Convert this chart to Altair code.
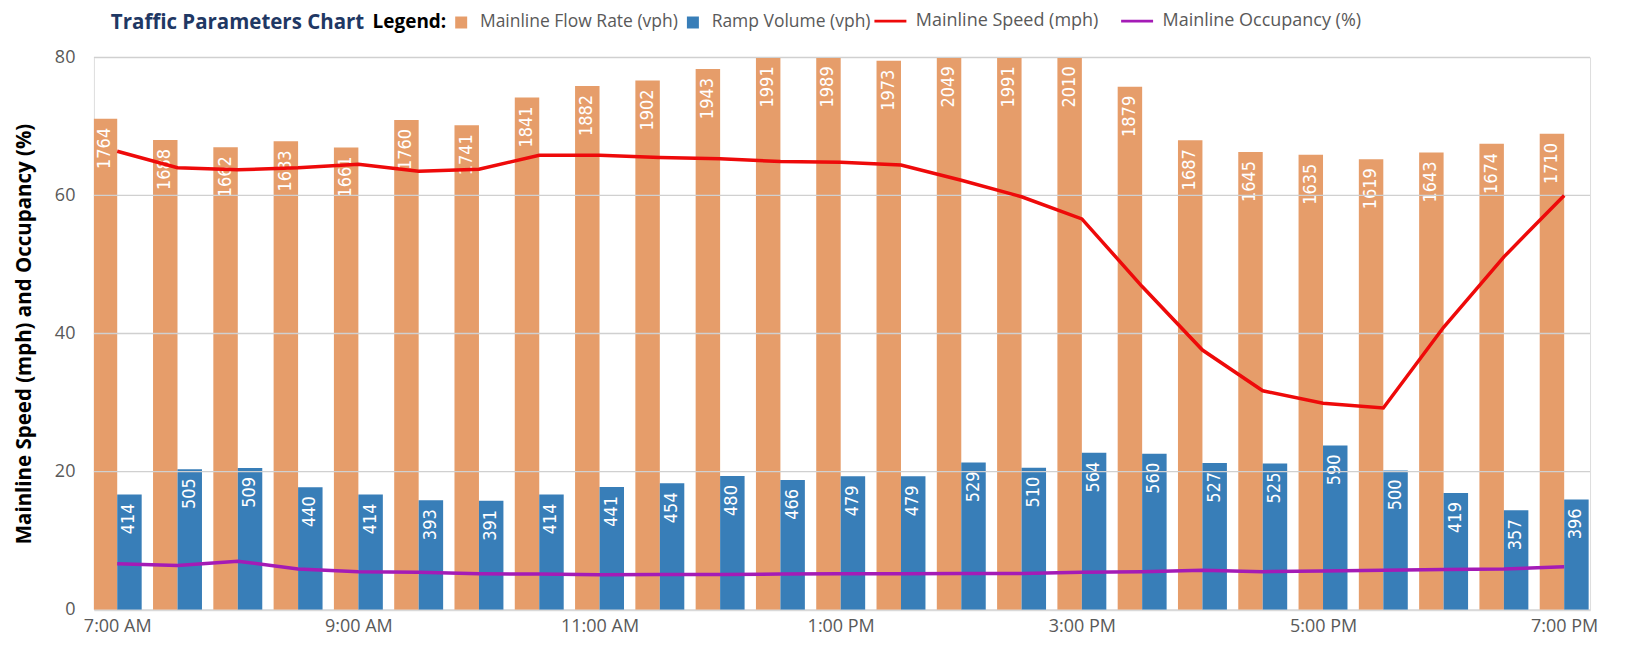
import json
import altair as alt
import pandas as pd

# ---------------- data ----------------
times = ["7:00 AM", "7:30 AM", "8:00 AM", "8:30 AM", "9:00 AM", "9:30 AM",
         "10:00 AM", "10:30 AM", "11:00 AM", "11:30 AM", "12:00 PM", "12:30 PM",
         "1:00 PM", "1:30 PM", "2:00 PM", "2:30 PM", "3:00 PM", "3:30 PM",
         "4:00 PM", "4:30 PM", "5:00 PM", "5:30 PM", "6:00 PM", "6:30 PM", "7:00 PM"]
flow_rate = [1764, 1688, 1662, 1683, 1661, 1760, 1741, 1841, 1882, 1902, 1943, 1991,
             1989, 1973, 2049, 1991, 2010, 1879, 1687, 1645, 1635, 1619, 1643, 1674, 1710]
ramp_volume = [414, 505, 509, 440, 414, 393, 391, 414, 441, 454, 480, 466,
               479, 479, 529, 510, 564, 560, 527, 525, 590, 500, 419, 357, 396]
speed = [66.4, 64.0, 63.7, 64.0, 64.5, 63.5, 63.8, 65.8, 65.8, 65.5, 65.3, 64.9,
         64.8, 64.4, 62.2, 59.8, 56.6, 46.8, 37.6, 31.7, 29.9, 29.2, 40.9, 51.1, 60.0]
occupancy = [6.65, 6.4, 7.0, 5.9, 5.5, 5.4, 5.2, 5.15, 5.05, 5.1, 5.1, 5.15,
             5.2, 5.2, 5.25, 5.25, 5.4, 5.5, 5.7, 5.5, 5.6, 5.7, 5.8, 5.9, 6.2]

x_tick_labels = ["7:00 AM", "9:00 AM", "11:00 AM", "1:00 PM", "3:00 PM", "5:00 PM", "7:00 PM"]
y_ticks = [0, 20, 40, 60, 80]

CHART_TITLE = "Traffic Parameters Chart"
FLOW = "Mainline Flow Rate (vph)"
RAMP = "Ramp Volume (vph)"
SPEED = "Mainline Speed (mph)"
OCC = "Mainline Occupancy (%)"

ORANGE = "#E69D6A"
BLUE = "#387EB8"
RED = "#EE0A0A"
PURPLE = "#A41BB6"

FONT = "Open Sans"
LABEL_FONT = "Liberation Sans Narrow, DejaVu Sans Condensed, Roboto"


def to_hours(s):
    hm, ap = s.split()
    h, m = (int(v) for v in hm.split(":"))
    return h % 12 + (12 if ap == "PM" else 0) + m / 60


df = pd.DataFrame({
    "time": times,
    "hour": [to_hours(t) for t in times],
    "flow": flow_rate,
    "ramp": ramp_volume,
    "speed": speed,
    "occ": occupancy,
})
grid_df = pd.DataFrame({"v": y_ticks[1:]})
title_df = pd.DataFrame({"t": [CHART_TITLE]})

tick_values = [to_hours(t) for t in x_tick_labels]
label_expr = f"{json.dumps(x_tick_labels)}[round((datum.value - {tick_values[0]}) / 2)]"

bar_max = 1985

# ---------------- scales / axes ----------------
xscale = alt.Scale(domain=[6.848, 19.173], nice=False, zero=False)
xaxis = alt.Axis(values=tick_values, labelExpr=label_expr, ticks=False, grid=False,
                 domain=True, domainColor="#D9D9D9", domainWidth=2,
                 labelColor="#595959", labelFont=FONT, labelFontSize=18,
                 labelPadding=8, labelFlush=False, title=None)
X = alt.X("hour:Q", scale=xscale, axis=xaxis)

ybar_scale = alt.Scale(domain=[0, bar_max], nice=False, zero=True)
yline_scale = alt.Scale(domain=[0, 80], nice=False, zero=True)
yaxis = alt.Axis(values=y_ticks, orient="left", grid=False, ticks=False, domain=False,
                 labelColor="#595959", labelFont=FONT, labelFontSize=18, labelPadding=19,
                 title="Mainline Speed (mph) and Occupancy (%)", titleFont=FONT,
                 titleFontSize=20.5, titleFontWeight="bold", titleColor="black",
                 titlePadding=20)

fill_scale = alt.Scale(domain=[FLOW, RAMP], range=[ORANGE, BLUE])
stroke_scale = alt.Scale(domain=[SPEED, OCC], range=[RED, PURPLE])

fill_legend = alt.Legend(title="Legend:", orient="none", legendX=279, legendY=-44,
                         direction="horizontal", titleOrient="left",
                         titleFont=FONT, titleFontSize=19, titleFontWeight="bold",
                         titleColor="black", titlePadding=6,
                         symbolType="square", symbolSize=144, symbolStrokeWidth=0,
                         labelFont=FONT, labelFontSize=17.5, labelColor="#595959",
                         labelLimit=400, labelOffset=10, columnPadding=6)
stroke_legend = alt.Legend(title=None, orient="none", legendX=780, legendY=-54,
                           direction="horizontal", symbolType="stroke",
                           symbolSize=1024, symbolStrokeWidth=3,
                           labelFont=FONT, labelFontSize=18, labelColor="#595959",
                           labelLimit=400, labelOffset=8, columnPadding=16)

base = alt.Chart(df)

flow_bars = base.transform_calculate(series=f"'{FLOW}'").mark_bar(
    orient="vertical", width=24.5, xOffset=-12.25, clip=True
).encode(
    x=X,
    y=alt.Y("flow:Q", scale=ybar_scale, axis=None),
    fill=alt.Fill("series:N", scale=fill_scale, legend=fill_legend),
)
ramp_bars = base.transform_calculate(series=f"'{RAMP}'").mark_bar(
    orient="vertical", width=24.5, xOffset=12.25, clip=True
).encode(
    x=X,
    y=alt.Y("ramp:Q", scale=ybar_scale, axis=None),
    fill=alt.Fill("series:N", scale=fill_scale, legend=fill_legend),
)
flow_text = base.transform_calculate(ytop=f"min(datum.flow, {bar_max})").mark_text(
    angle=270, align="right", baseline="middle", dx=-9, xOffset=-12.25,
    color="white", font=LABEL_FONT, fontSize=18
).encode(
    x=X,
    y=alt.Y("ytop:Q", scale=ybar_scale, axis=None),
    text=alt.Text("flow:Q", format="d"),
)
ramp_text = base.transform_calculate(ytop=f"min(datum.ramp, {bar_max})").mark_text(
    angle=270, align="right", baseline="middle", dx=-9, xOffset=12.25,
    color="white", font=LABEL_FONT, fontSize=18
).encode(
    x=X,
    y=alt.Y("ytop:Q", scale=ybar_scale, axis=None),
    text=alt.Text("ramp:Q", format="d"),
)

bars = alt.layer(flow_bars, ramp_bars, flow_text, ramp_text)

grid = alt.Chart(grid_df).mark_rule(color="#D0D0D0", strokeWidth=1.3).encode(
    y=alt.Y("v:Q", scale=yline_scale, axis=yaxis)
)
speed_line = base.transform_calculate(series=f"'{SPEED}'").mark_line(strokeWidth=3.5).encode(
    x=X,
    y=alt.Y("speed:Q", scale=yline_scale, axis=yaxis),
    stroke=alt.Stroke("series:N", scale=stroke_scale, legend=stroke_legend),
)
occ_line = base.transform_calculate(series=f"'{OCC}'").mark_line(strokeWidth=3.5).encode(
    x=X,
    y=alt.Y("occ:Q", scale=yline_scale, axis=yaxis),
    stroke=alt.Stroke("series:N", scale=stroke_scale, legend=stroke_legend),
)
lines = alt.layer(grid, speed_line, occ_line)

# heading placed in the legend row, left of "Legend:"
heading = alt.Chart(title_df).mark_text(
    align="left", baseline="middle", font=FONT, fontSize=20.5, fontWeight="bold",
    color="#1F3864"
).encode(x=alt.value(17), y=alt.value(-34), text="t:N")

chart = alt.layer(bars, lines, heading).resolve_scale(y="independent").properties(
    width=1498,
    height=553,
    autosize=alt.AutoSizeParams(type="none"),
    padding={"left": 86, "top": 49, "right": 30, "bottom": 30},
).configure_view(stroke=None).configure(background="white")

chart.save("out.html", embed_options={"renderer": "svg", "actions": False})
